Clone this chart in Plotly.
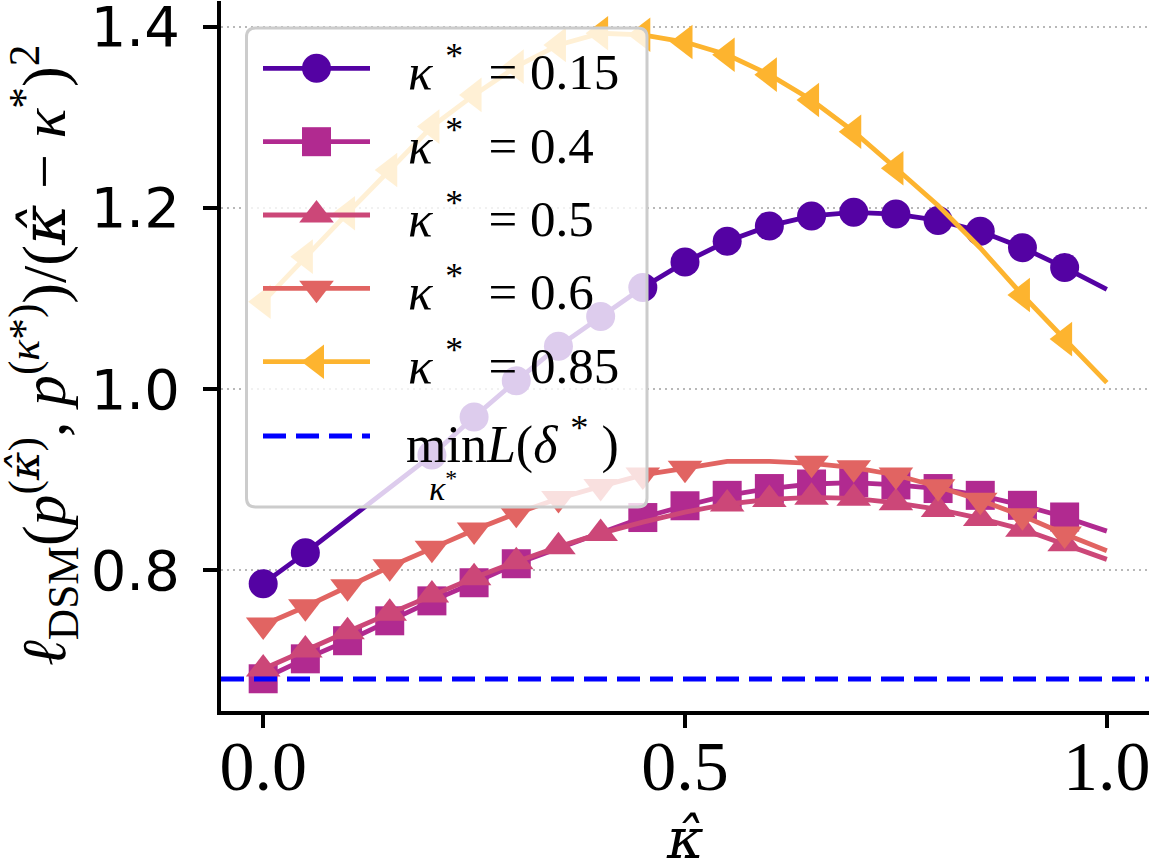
import plotly.graph_objects as go

# ---------------- data ----------------
kappa_hat = [0.00, 0.05, 0.10, 0.15, 0.20, 0.25, 0.30, 0.35, 0.40, 0.45, 0.50,
             0.55, 0.60, 0.65, 0.70, 0.75, 0.80, 0.85, 0.90, 0.95, 1.00]

kappa_star_labels = ["0.15", "0.4", "0.5", "0.6", "0.85"]

loss_k015 = [0.785, 0.819, 0.855, 0.891, 0.927, 0.969, 1.009, 1.047, 1.080, 1.112, 1.140,
             1.163, 1.180, 1.191, 1.195, 1.193, 1.186, 1.174, 1.156, 1.134, 1.110]
loss_k040 = [0.680, 0.702, 0.722, 0.744, 0.766, 0.786, 0.807, 0.824, 0.841, 0.858, 0.871,
             0.8825, 0.890, 0.895, 0.8965, 0.894, 0.890, 0.8825, 0.8715, 0.8586, 0.843]
loss_k050 = [0.6907, 0.7117, 0.7319, 0.7522, 0.7724, 0.7915, 0.8092, 0.8258, 0.8405, 0.853, 0.864,
             0.8729, 0.878, 0.8803, 0.8792, 0.8743, 0.867, 0.857, 0.845, 0.829, 0.8118]
loss_k060 = [0.7393, 0.7595, 0.7816, 0.8037, 0.824, 0.8442, 0.8626, 0.879, 0.8924, 0.905, 0.9123,
             0.920, 0.920, 0.9178, 0.913, 0.905, 0.892, 0.877, 0.860, 0.8398, 0.8213]
loss_k085 = [1.0963, 1.146, 1.194, 1.2417, 1.2896, 1.3246, 1.3558, 1.3798, 1.3927, 1.391, 1.383,
             1.369, 1.347, 1.319, 1.284, 1.2436, 1.2025, 1.1556, 1.1037, 1.055, 1.007]

# which evaluated points carry a marker (points near kappa* and the end point have none)
marked_k015 = [1, 1, 0, 0, 1, 1, 1, 1, 1, 1, 1, 1, 1, 1, 1, 1, 1, 1, 1, 1, 0]
marked_k040 = [1, 1, 1, 1, 1, 1, 1, 0, 0, 1, 1, 1, 1, 1, 1, 1, 1, 1, 1, 1, 0]
marked_k050 = [1, 1, 1, 1, 1, 1, 1, 1, 1, 0, 0, 1, 1, 1, 1, 1, 1, 1, 1, 1, 0]
marked_k060 = [1, 1, 1, 1, 1, 1, 1, 1, 1, 1, 1, 0, 0, 1, 1, 1, 1, 1, 1, 1, 0]
marked_k085 = [1, 1, 1, 1, 1, 1, 1, 1, 1, 1, 1, 1, 1, 1, 1, 1, 0, 0, 1, 1, 0]

min_L = 0.6796

x_tick_vals = [0.0, 0.5, 1.0]
x_tick_text = ["0.0", "0.5", "1.0"]
y_tick_vals = [0.8, 1.0, 1.2, 1.4]
y_tick_text = ["0.8", "1.0", "1.2", "1.4"]

x_range = [-0.05, 1.05]
y_range = [0.6444, 1.4283]

# ---------------- styles ----------------
colors = ["#5402a3", "#b12a90", "#cc4778", "#e16462", "#fdb42f"]
symbols = ["circle", "square", "triangle-up", "triangle-down", "triangle-left"]
msizes = [29, 29, 30, 30, 30]
LW = 4.8
SERIF = "Liberation Serif"
NB = "\u00a0"
KHAT = "<span style='font-family:DejaVu Serif'><i>κ̂</i></span>"

series = [loss_k015, loss_k040, loss_k050, loss_k060, loss_k085]
marks = [marked_k015, marked_k040, marked_k050, marked_k060, marked_k085]

W, H = 1153, 865
ML, MR, MT, MB = 221, 4, 1, 154

fig = go.Figure()

for ys, mk, c, sym, ms in zip(series, marks, colors, symbols, msizes):
    fig.add_trace(go.Scatter(
        x=kappa_hat, y=ys, mode="lines+markers",
        line=dict(color=c, width=LW),
        marker=dict(symbol=sym, color=c, opacity=1,
                    size=[ms if m else 0 for m in mk], line=dict(width=0)),
        showlegend=False, hoverinfo="skip"))

fig.add_trace(go.Scatter(
    x=x_range, y=[min_L, min_L], mode="lines",
    line=dict(color="#0000ff", width=5, dash="23px,10px"),
    showlegend=False, hoverinfo="skip"))

# ---------------- custom legend (pixel-coordinate overlay axes) ----------------
px_x0, px_x1 = ML, W - MR
px_yt, px_yb = MT, H - MB
bx0, bx1, by0, by1, rr = 246.5, 647.0, 28.0, 507.0, 9.0
legend_path = (f"M{bx0+rr},{by0} L{bx1-rr},{by0} Q{bx1},{by0} {bx1},{by0+rr} "
               f"L{bx1},{by1-rr} Q{bx1},{by1} {bx1-rr},{by1} L{bx0+rr},{by1} "
               f"Q{bx0},{by1} {bx0},{by1-rr} L{bx0},{by0+rr} Q{bx0},{by0} {bx0+rr},{by0} Z")

row_y = [68.3, 141.7, 215.0, 288.3, 361.7, 436.0]
sx0, sxm, sx1 = 263.0, 316.5, 370.0
for i, (c, sym, ms) in enumerate(zip(colors, symbols, msizes)):
    fig.add_trace(go.Scatter(
        x=[sx0, sxm, sx1], y=[row_y[i]] * 3, mode="lines+markers",
        xaxis="x2", yaxis="y2",
        line=dict(color=c, width=LW),
        marker=dict(symbol=sym, color=c, opacity=1, size=[0, ms, 0], line=dict(width=0)),
        showlegend=False, hoverinfo="skip"))
fig.add_trace(go.Scatter(
    x=[sx0, sx1], y=[row_y[5]] * 2, mode="lines", xaxis="x2", yaxis="y2",
    line=dict(color="#0000ff", width=5, dash="23px,10px"),
    showlegend=False, hoverinfo="skip"))

fig.add_shape(type="path", path=legend_path, xref="x2", yref="y2", layer="below",
              fillcolor="rgba(255,255,255,0.8)", line=dict(color="#cccccc", width=3))

annotations = []
for i, lab in enumerate(kappa_star_labels):
    annotations.append(dict(
        x=406, y=row_y[i], xref="x2", yref="y2", xanchor="left", yanchor="middle",
        text=f"<i>κ</i>{NB}<sup>*</sup>{NB}{NB}={NB}{lab}", showarrow=False,
        font=dict(family=SERIF, size=51, color="black")))
annotations.append(dict(
    x=404, y=row_y[5] + 5, xref="x2", yref="y2", xanchor="left", yanchor="middle",
    text=f"min<i>L</i>(<i>δ</i>{NB}<sup>*</sup>{NB})", showarrow=False,
    font=dict(family=SERIF, size=52, color="black")))
annotations.append(dict(
    x=427, y=row_y[5] + 50, xref="x2", yref="y2", xanchor="left", yanchor="middle",
    text="<i>κ</i><sup>*</sup>", showarrow=False,
    font=dict(family=SERIF, size=34, color="black")))

# axis titles
annotations.append(dict(
    x=(43 - ML) / (W - ML - MR), y=0.5, xref="paper", yref="paper",
    xanchor="center", yanchor="middle", textangle=-90, showarrow=False,
    text=(f"<i>ℓ</i><sub>DSM</sub>(<i>p</i><sup>({KHAT})</sup>,{NB}<i>p</i><sup>(<i>κ</i>*)</sup>)"
          f"/({KHAT}{NB}−{NB}<i>κ</i><sup>*</sup>)<sup>2</sup>"),
    font=dict(family=SERIF, size=62, color="black")))
annotations.append(dict(
    x=0.5, y=(px_yb - 838) / (px_yb - px_yt), xref="x", yref="paper",
    xanchor="center", yanchor="middle", showarrow=False,
    text=KHAT, font=dict(family=SERIF, size=56, color="black")))

fig.update_layout(
    width=W, height=H,
    margin=dict(l=ML, r=MR, t=MT, b=MB, pad=0, autoexpand=False),
    paper_bgcolor="white", plot_bgcolor="rgba(0,0,0,0)",
    showlegend=False,
    annotations=annotations,
    xaxis=dict(range=x_range, domain=[0, 1], showgrid=False, zeroline=False,
               automargin=False,
               showline=True, linecolor="black", linewidth=4,
               ticks="outside", ticklen=13, tickwidth=3.5, tickcolor="black",
               tickvals=x_tick_vals, ticktext=x_tick_text,
               tickfont=dict(family=SERIF, size=70, color="black"),
               ticklabelstandoff=-22, ticklabeloverflow="allow"),
    yaxis=dict(range=y_range, domain=[0, 1], showgrid=True, gridcolor="#b8b8b8",
               gridwidth=2, griddash="2px,4px", zeroline=False,
               automargin=False,
               showline=True, linecolor="black", linewidth=4,
               ticks="outside", ticklen=14, tickwidth=3.5, tickcolor="black",
               tickvals=y_tick_vals, ticktext=y_tick_text,
               tickfont=dict(family="DejaVu Sans", size=56, color="black"),
               ticklabelstandoff=12, ticklabeloverflow="allow"),
    xaxis2=dict(range=[px_x0, px_x1], domain=[0, 1], anchor="y2", visible=False,
                fixedrange=True, automargin=False),
    yaxis2=dict(range=[px_yb, px_yt], domain=[0, 1], anchor="x2", visible=False,
                fixedrange=True, automargin=False),
)

fig.write_html("out.html")
